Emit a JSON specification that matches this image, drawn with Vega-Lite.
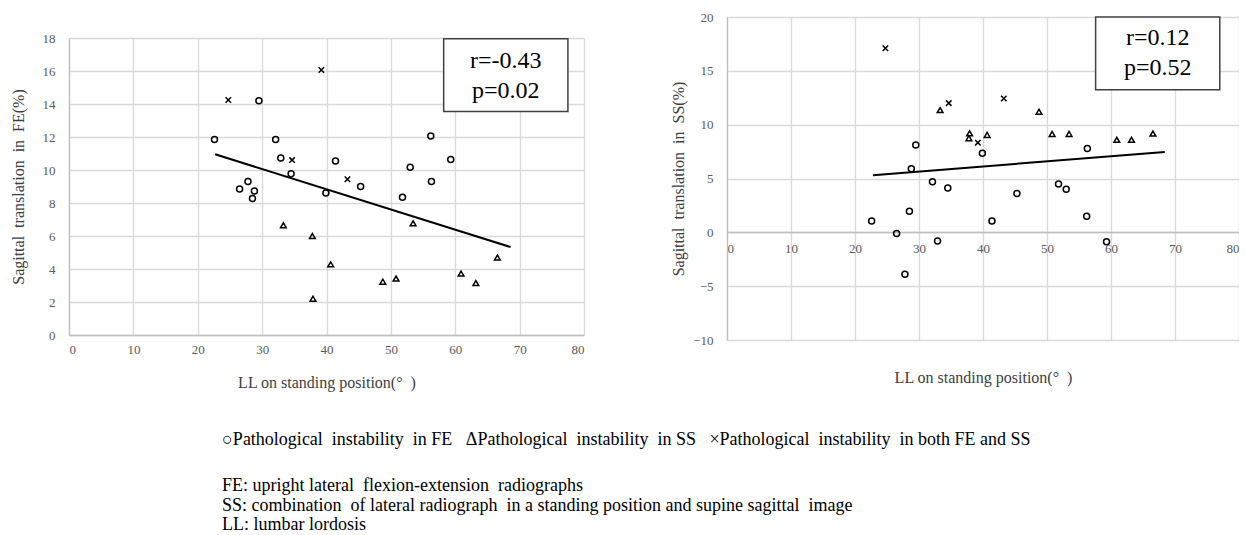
{
  "$schema": "https://vega.github.io/schema/vega-lite/v6.json",
  "padding": {"left": 10, "top": 11, "right": 0, "bottom": 0},
  "config": {
    "font": "Liberation Serif",
    "view": {"stroke": null},
    "axis": {
      "grid": true, "gridColor": "#d9d9d9", "gridWidth": 1.3,
      "domainColor": "#bfbfbf", "domainWidth": 1.3, "ticks": false, "labelOverlap": false,
      "labelFont": "Liberation Serif", "labelFontSize": 13, "labelColor": "#595959",
      "titleFont": "Liberation Serif", "titleFontSize": 16, "titleFontWeight": "normal", "titleColor": "#404040"
    }
  },
  "datasets": {
    "patients": [
      {"LL": 22.6, "FE": 11.85, "SS": 1.05, "group": "FE"},
      {"LL": 26.5, "FE": 8.85, "SS": -0.1, "group": "FE"},
      {"LL": 27.8, "FE": 9.3, "SS": -3.9, "group": "FE"},
      {"LL": 28.5, "FE": 8.27, "SS": 1.95, "group": "FE"},
      {"LL": 28.8, "FE": 8.73, "SS": 5.9, "group": "FE"},
      {"LL": 29.5, "FE": 14.2, "SS": 8.1, "group": "FE"},
      {"LL": 32.1, "FE": 11.85, "SS": 4.7, "group": "FE"},
      {"LL": 32.9, "FE": 10.73, "SS": -0.8, "group": "FE"},
      {"LL": 34.5, "FE": 9.78, "SS": 4.12, "group": "FE"},
      {"LL": 39.9, "FE": 8.6, "SS": 7.35, "group": "FE"},
      {"LL": 41.4, "FE": 10.55, "SS": 1.05, "group": "FE"},
      {"LL": 45.3, "FE": 9.0, "SS": 3.6, "group": "FE"},
      {"LL": 51.8, "FE": 8.35, "SS": 4.5, "group": "FE"},
      {"LL": 53.0, "FE": 10.16, "SS": 4.0, "group": "FE"},
      {"LL": 56.2, "FE": 12.06, "SS": 1.5, "group": "FE"},
      {"LL": 56.3, "FE": 9.3, "SS": 7.78, "group": "FE"},
      {"LL": 59.3, "FE": 10.63, "SS": -0.87, "group": "FE"},
      {"LL": 33.3, "FE": 6.65, "SS": 11.35, "group": "SS"},
      {"LL": 37.8, "FE": 6.0, "SS": 8.74, "group": "SS"},
      {"LL": 37.9, "FE": 2.2, "SS": 9.2, "group": "SS"},
      {"LL": 40.65, "FE": 4.28, "SS": 9.05, "group": "SS"},
      {"LL": 48.75, "FE": 3.23, "SS": 11.2, "group": "SS"},
      {"LL": 50.8, "FE": 3.42, "SS": 9.14, "group": "SS"},
      {"LL": 53.45, "FE": 6.77, "SS": 9.14, "group": "SS"},
      {"LL": 60.9, "FE": 3.72, "SS": 8.59, "group": "SS"},
      {"LL": 63.2, "FE": 3.15, "SS": 8.59, "group": "SS"},
      {"LL": 66.55, "FE": 4.69, "SS": 9.17, "group": "SS"},
      {"LL": 24.75, "FE": 14.24, "SS": 17.1, "group": "both"},
      {"LL": 34.65, "FE": 10.6, "SS": 12.0, "group": "both"},
      {"LL": 39.2, "FE": 16.06, "SS": 8.33, "group": "both"},
      {"LL": 43.25, "FE": 9.44, "SS": 12.43, "group": "both"}
    ]
  },
  "title": {
    "text": "○Pathological\u00a0 instability\u00a0 in FE\u00a0\u00a0 ΔPathological\u00a0 instability\u00a0 in SS\u00a0\u00a0 ×Pathological\u00a0 instability\u00a0 in both FE and SS",
    "subtitle": [
      "FE: upright lateral\u00a0 flexion-extension\u00a0 radiographs",
      "SS: combination\u00a0 of lateral radiograph\u00a0 in a standing position and supine sagittal\u00a0 image",
      "LL: lumbar lordosis"
    ],
    "orient": "bottom", "anchor": "start", "dx": 212, "offset": 41,
    "font": "Liberation Serif", "fontSize": 18, "fontWeight": "normal", "color": "black",
    "subtitleFont": "Liberation Serif", "subtitleFontSize": 18, "subtitleColor": "black",
    "subtitlePadding": 28, "subtitleLineHeight": 19.5
  },
  "spacing": 86,
  "hconcat": [
    {
      "spacing": 9,
      "vconcat": [
        {
          "width": 515, "height": 1,
          "data": {"values": [{"note": ""}]},
          "mark": {"type": "text"},
          "encoding": {"text": {"field": "note"}}
        },
        {
          "width": 515, "height": 297,
          "layer": [
            {
              "data": {"name": "patients"},
              "mark": {"type": "point", "filled": false, "stroke": "black", "strokeWidth": 1.5, "opacity": 1},
              "encoding": {
                "x": {"field": "LL", "type": "quantitative", "scale": {"domain": [0, 80], "nice": false},
                  "axis": {"values": [0, 10, 20, 30, 40, 50, 60, 70, 80], "labelOverlap": false, "labelPadding": 8, "title": "LL on standing position(°\u00a0\u00a0)", "titlePadding": 18}},
                "y": {"field": "FE", "type": "quantitative", "scale": {"domain": [0, 18], "nice": false},
                  "axis": {"values": [0, 2, 4, 6, 8, 10, 12, 14, 16, 18], "labelOverlap": false, "labelPadding": 14, "title": "Sagittal\u00a0 translation\u00a0 in\u00a0 FE(%)", "titlePadding": 16}},
                "shape": {"field": "group", "type": "nominal", "scale": {"domain": ["FE", "SS", "both"], "range": ["circle", "triangle-up", "M-1,-1L1,1M-1,1L1,-1"]}, "legend": null},
                "size": {"field": "group", "type": "nominal", "scale": {"domain": ["FE", "SS", "both"], "range": [36, 30, 60]}, "legend": null}
              }
            },
            {
              "data": {"values": [{"LL": 22.7, "FE": 10.95}, {"LL": 68.6, "FE": 5.33}]},
              "mark": {"type": "line", "color": "black", "strokeWidth": 2},
              "encoding": {
                "x": {"field": "LL", "type": "quantitative",
                  "axis": {"values": [0, 10, 20, 30, 40, 50, 60, 70, 80], "labelOverlap": false, "labelPadding": 8, "title": "LL on standing position(°\u00a0\u00a0)", "titlePadding": 18}},
                "y": {"field": "FE", "type": "quantitative",
                  "axis": {"values": [0, 2, 4, 6, 8, 10, 12, 14, 16, 18], "labelOverlap": false, "labelPadding": 14, "title": "Sagittal\u00a0 translation\u00a0 in\u00a0 FE(%)", "titlePadding": 16}}
              }
            },
            {
              "data": {"values": [{"label": "r=-0.43\np=0.02"}]},
              "mark": {"type": "rect", "fill": "white", "stroke": "#404040", "strokeWidth": 1.5},
              "encoding": {
                "x": {"datum": 58.2, "axis": {"values": [0, 10, 20, 30, 40, 50, 60, 70, 80], "labelOverlap": false, "labelPadding": 8, "title": "LL on standing position(°\u00a0\u00a0)", "titlePadding": 18}},
                "x2": {"datum": 77.5},
                "y": {"datum": 17.96, "axis": {"values": [0, 2, 4, 6, 8, 10, 12, 14, 16, 18], "labelOverlap": false, "labelPadding": 14, "title": "Sagittal\u00a0 translation\u00a0 in\u00a0 FE(%)", "titlePadding": 16}},
                "y2": {"datum": 13.54}
              }
            },
            {
              "data": {"values": [{"label": "r=-0.43\np=0.02"}]},
              "mark": {"type": "text", "font": "Liberation Serif", "fontSize": 24, "lineHeight": 30, "lineBreak": "\n", "align": "center", "baseline": "middle", "color": "black"},
              "encoding": {
                "x": {"datum": 67.85, "axis": {"values": [0, 10, 20, 30, 40, 50, 60, 70, 80], "labelOverlap": false, "labelPadding": 8, "title": "LL on standing position(°\u00a0\u00a0)", "titlePadding": 18}},
                "y": {"datum": 16.6, "axis": {"values": [0, 2, 4, 6, 8, 10, 12, 14, 16, 18], "labelOverlap": false, "labelPadding": 14, "title": "Sagittal\u00a0 translation\u00a0 in\u00a0 FE(%)", "titlePadding": 16}},
                "text": {"field": "label"}
              }
            }
          ]
        }
      ]
    },
    {
      "width": 512, "height": 323,
      "layer": [
        {
          "data": {"name": "patients"},
          "mark": {"type": "point", "filled": false, "stroke": "black", "strokeWidth": 1.5, "opacity": 1},
          "encoding": {
            "x": {"field": "LL", "type": "quantitative", "scale": {"domain": [0, 80], "nice": false},
              "axis": {"values": [0, 10, 20, 30, 40, 50, 60, 70, 80], "labelOverlap": false, "labelPadding": 10, "offset": -108, "title": "LL on standing position(°\u00a0\u00a0)", "titleY": 137, "titleBaseline": "top"}},
            "y": {"field": "SS", "type": "quantitative", "scale": {"domain": [-10, 20], "nice": false},
              "axis": {"values": [-10, -5, 0, 5, 10, 15, 20], "labelOverlap": false, "labelPadding": 14, "title": "Sagittal\u00a0 translation\u00a0 in\u00a0 SS(%)", "titlePadding": 6}},
            "shape": {"field": "group", "type": "nominal", "scale": {"domain": ["FE", "SS", "both"], "range": ["circle", "triangle-up", "M-1,-1L1,1M-1,1L1,-1"]}, "legend": null},
            "size": {"field": "group", "type": "nominal", "scale": {"domain": ["FE", "SS", "both"], "range": [36, 30, 60]}, "legend": null}
          }
        },
        {
          "data": {"values": [{"LL": 22.8, "SS": 5.3}, {"LL": 68.4, "SS": 7.47}]},
          "mark": {"type": "line", "color": "black", "strokeWidth": 2},
          "encoding": {"x": {"field": "LL", "type": "quantitative"}, "y": {"field": "SS", "type": "quantitative"}}
        },
        {
          "data": {"values": [{"label": "r=0.12\np=0.52"}]},
          "mark": {"type": "rect", "fill": "white", "stroke": "#404040", "strokeWidth": 1.5},
          "encoding": {"x": {"datum": 57.6}, "x2": {"datum": 77.0}, "y": {"datum": 20.0}, "y2": {"datum": 13.24}}
        },
        {
          "data": {"values": [{"label": "r=0.12\np=0.52"}]},
          "mark": {"type": "text", "font": "Liberation Serif", "fontSize": 24, "lineHeight": 30, "lineBreak": "\n", "align": "center", "baseline": "middle", "color": "black"},
          "encoding": {"x": {"datum": 67.3}, "y": {"datum": 18.05}, "text": {"field": "label"}}
        }
      ]
    }
  ]
}
